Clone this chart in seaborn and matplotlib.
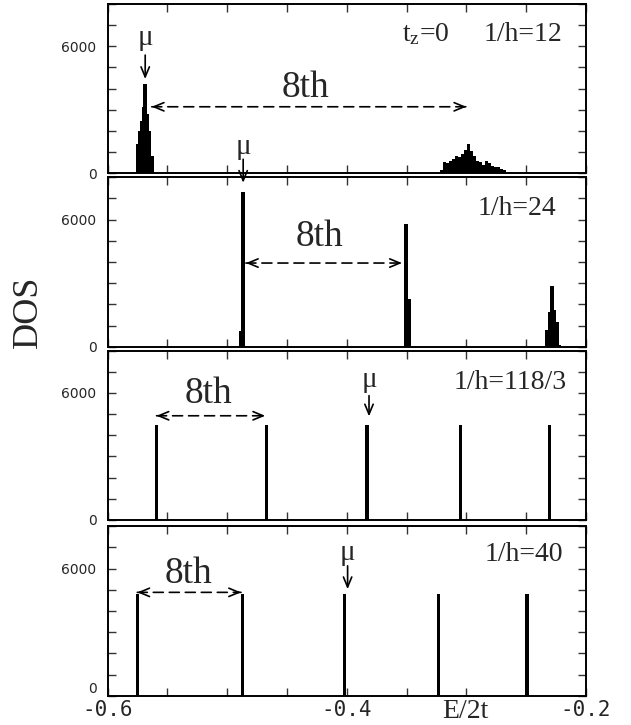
import numpy as np
import matplotlib
matplotlib.use("Agg")
import matplotlib.pyplot as plt
from matplotlib.transforms import blended_transform_factory
import pandas as pd
import seaborn as sns

# ---- density of states, binned in E/2t ----
# 1/h = 12 (t_z = 0): bin edges and counts per bin (zero = empty energy gap)
edges_12 = [-0.5764, -0.5745, -0.5726, -0.5712, -0.5700, -0.5670, -0.5652, -0.5634, -0.5610,
            -0.3219, -0.3194, -0.3169, -0.3144, -0.3119, -0.3094, -0.3069, -0.3044, -0.3019,
            -0.2994, -0.2969, -0.2944, -0.2919, -0.2894, -0.2869, -0.2844, -0.2819, -0.2794,
            -0.2769, -0.2744, -0.2719, -0.2694, -0.2669]
dos_12 = [1400, 2000, 2450, 3150, 4200, 2800, 2000, 800,
          0,
          160, 520, 470, 560, 680, 830, 760, 900, 1100, 1370, 1050,
          820, 600, 540, 380, 560, 470, 330, 310, 280, 180, 160]

# 1/h = 24
edges_24 = [-0.4900, -0.4885, -0.4852, -0.3525, -0.3484, -0.3461,
            -0.2347, -0.2318, -0.2300, -0.2268, -0.2247, -0.2223, -0.2208]
dos_24 = [740, 7300, 0, 5800, 2250, 0, 770, 1650, 2850, 1720, 1150, 60]

# 1/h = 118/3 : isolated Landau levels
levels_118_3 = [-0.5590, -0.4672, -0.3831, -0.3048, -0.2305]
dos_118_3 = [4500, 4500, 4500, 4500, 4500]

# 1/h = 40
levels_40 = [-0.5751, -0.4874, -0.4017, -0.3234, -0.2494]
dos_40 = [4800, 4800, 4800, 4800, 4800]

panel_labels = ["1/h=12", "1/h=24", "1/h=118/3", "1/h=40"]
x_ticks = [-0.60, -0.55, -0.50, -0.45, -0.40, -0.35, -0.30, -0.25, -0.20]
x_ticklabels = ["-0.6", "", "", "", "-0.4", "", "", "", "-0.2"]
y_ticks = [0, 1000, 2000, 3000, 4000, 5000, 6000, 7000, 8000]
y_ticklabels = ["0", "", "", "", "", "", "6000", "", ""]

sns.set_theme(style="ticks")
plt.rcParams["font.family"] = ["Liberation Serif", "DejaVu Sans"]
plt.rcParams["mathtext.fontset"] = "custom"
plt.rcParams["mathtext.rm"] = "Liberation Serif"
plt.rcParams["mathtext.it"] = "Liberation Serif:italic"

fig = plt.figure(figsize=(6.31, 7.25), dpi=100)
left, width, height = 0.1704, 0.7583, 0.2337
bottoms = [0.7610, 0.5218, 0.2828, 0.0404]
axes = [fig.add_axes([left, b, width, height]) for b in bottoms]


def spikes(levels, dos, w):
    """Turn isolated levels into histogram edges with empty gaps between."""
    e, d = [], []
    for i, (c, v) in enumerate(zip(levels, dos)):
        e += [c - w / 2, c + w / 2]
        d.append(v)
        if i < len(levels) - 1:
            d.append(0)
    return e, d


def draw_dos(ax, edges, dos):
    edges = [float(v) for v in edges]
    centers = [0.5 * (a + b) for a, b in zip(edges[:-1], edges[1:])]
    df = pd.DataFrame({"E": centers, "dos": dos})
    sns.histplot(data=df, x="E", weights="dos", bins=edges, stat="count",
                 element="bars", color="black", alpha=1.0, linewidth=0,
                 ax=ax)


e3, d3 = spikes(levels_118_3, dos_118_3, 0.0029)
e4, d4 = spikes(levels_40, dos_40, 0.0027)
data = [(edges_12, dos_12), (edges_24, dos_24), (e3, d3), (e4, d4)]

for ax, (e, d) in zip(axes, data):
    draw_dos(ax, e, d)
    ax.set_xlim(-0.6, -0.2)
    ax.set_ylim(0, 8000)
    ax.set_xticks(x_ticks, labels=x_ticklabels)
    ax.set_yticks(y_ticks, labels=y_ticklabels)
    ax.set_xlabel("")
    ax.set_ylabel("")
    ax.tick_params(axis="both", which="major", direction="in", length=5.8,
                   width=1.0, color="#333333", top=True, right=True,
                   pad=3)
    ax.tick_params(axis="y", labelsize=10, pad=8)
    for lab in ax.get_yticklabels():
        lab.set_fontfamily("DejaVu Sans")
    for s in ax.spines.values():
        s.set_linewidth(1.4)
        s.set_color("black")
        s.set_visible(True)
    ax.set_facecolor("white")

for ax in axes[:-1]:
    ax.tick_params(axis="x", labelbottom=False)
axes[-1].tick_params(axis="x", labelsize=15, pad=3)
for lab in axes[-1].get_xticklabels():
    lab.set_fontfamily("DejaVu Sans Mono")
axes[-1].yaxis.get_major_ticks()[0].label1.set_verticalalignment("bottom")

serif = "Liberation Serif"


def mu(ax, x, y_text, y0, y1):
    ax.text(x, y_text, "\u03bc", ha="center", va="baseline", fontsize=21,
            family=serif, clip_on=False)
    ax.annotate("", xy=(x, y1), xytext=(x, y0), annotation_clip=False,
                arrowprops=dict(arrowstyle="->,head_length=0.6,head_width=0.25",
                                lw=1.2, color="black", shrinkA=0, shrinkB=0))


def span(ax, x0, x1, y, label, lx, ly):
    ax.annotate("", xy=(x1, y), xytext=(x0, y),
                arrowprops=dict(arrowstyle="-", lw=1.2, color="black",
                                linestyle=(0, (6, 3.6)), shrinkA=0, shrinkB=0))
    for a, b in [(x0, x0 + 0.004), (x1, x1 - 0.004)]:
        ax.annotate("", xy=(a, y), xytext=(b, y),
                    arrowprops=dict(arrowstyle="->,head_length=0.6,head_width=0.25",
                                    lw=1.2, color="black", shrinkA=0, shrinkB=0))
    ax.text(lx, ly, label, ha="center", va="baseline", fontsize=27, family=serif)


ax1, ax2, ax3, ax4 = axes

# 1/h = 12
mu(ax1, -0.5685, 6050, 5580, 4450)
span(ax1, -0.5630, -0.3001, 3140, "8th", -0.4346, 3610)
ax1.text(-0.3535, 6250, r"$\mathrm{t_z}$=0", ha="left", va="baseline",
         fontsize=20, family=serif)
ax1.text(-0.2194, 6250, panel_labels[0], ha="right", va="baseline",
         fontsize=20, family=serif)

# 1/h = 24 (chemical potential marker sits above the panel)
mu(ax2, -0.4866, 9085, 8850, 7740)
span(ax2, -0.4843, -0.3539, 3950, "8th", -0.4228, 4740)
ax2.text(-0.2245, 6240, panel_labels[1], ha="right", va="baseline",
         fontsize=20, family=serif)

# 1/h = 118/3
mu(ax3, -0.3814, 6270, 5870, 4890)
span(ax3, -0.5590, -0.4682, 4920, "8th", -0.5153, 5510)
ax3.text(-0.2160, 6190, panel_labels[2], ha="right", va="baseline",
         fontsize=20, family=serif)

# 1/h = 40
mu(ax4, -0.3993, 6390, 6130, 5030)
span(ax4, -0.5751, -0.4884, 4880, "8th", -0.5321, 5340)
ax4.text(-0.2194, 6360, panel_labels[3], ha="right", va="baseline",
         fontsize=20, family=serif)

# axis titles
trans = blended_transform_factory(ax4.transData, ax4.transAxes)
ax4.text(-0.3010, -0.13, "E/2t", transform=trans, ha="center", va="baseline",
         fontsize=20, family=serif, clip_on=False)
fig.text(0.0449, 0.5697, "DOS", rotation=90, ha="center", va="center",
         fontsize=26, family=serif)

fig.savefig("out.png", dpi=100, facecolor="white")
